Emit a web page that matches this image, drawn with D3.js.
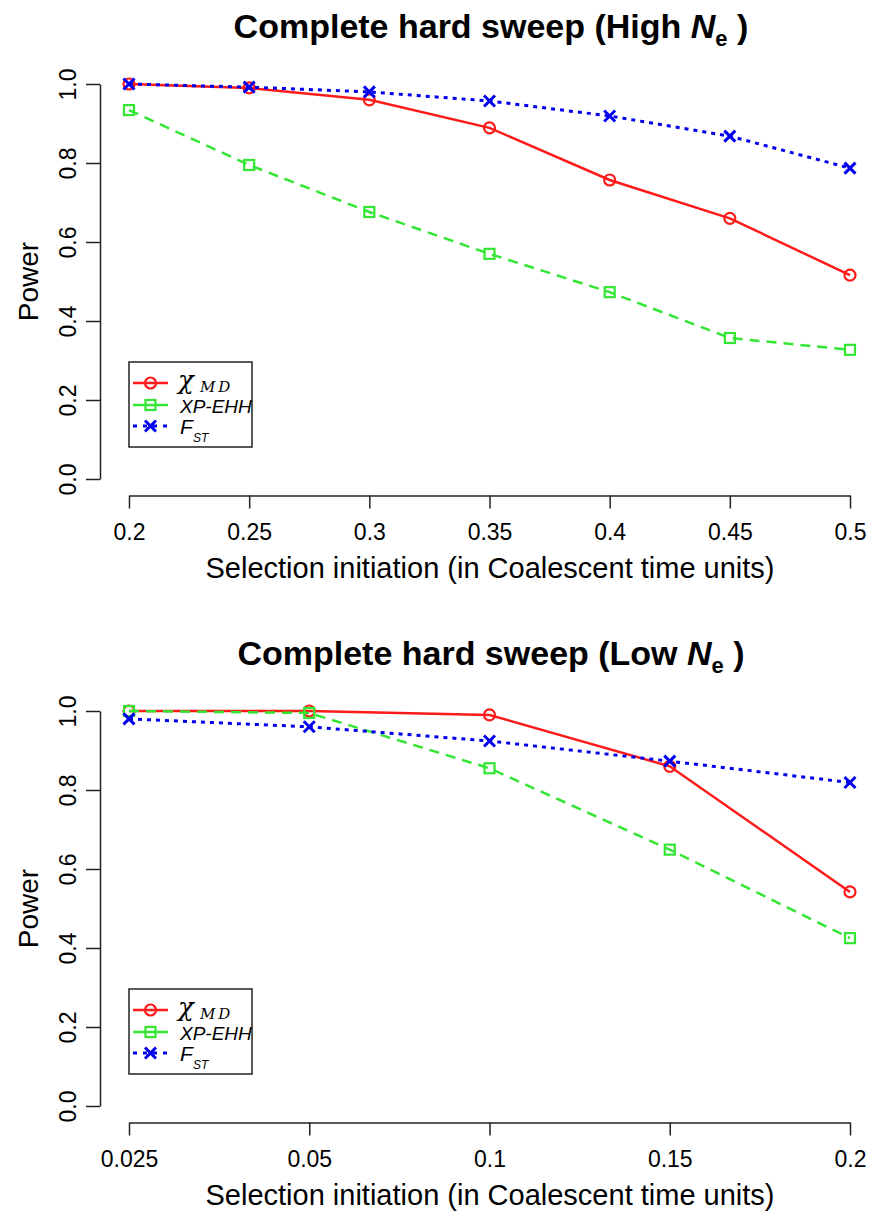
<!DOCTYPE html>
<html><head><meta charset="utf-8">
<script src="https://cdn.jsdelivr.net/npm/d3@7"></script>
<style>body{margin:0;background:#fff}svg{display:block}</style>
</head><body>
<svg id="chart" width="870" height="1211"></svg>
<script>
// ---- data ----
const highX = ["0.2","0.25","0.3","0.35","0.4","0.45","0.5"];
const highChi = [1.0, 0.99, 0.96, 0.889, 0.757, 0.66, 0.516];
const highXP  = [0.934, 0.795, 0.676, 0.57, 0.473, 0.357, 0.327];
const highFst = [1.0, 0.992, 0.98, 0.957, 0.919, 0.868, 0.787];

const lowX = ["0.025","0.05","0.1","0.15","0.2"];
const lowChi = [1.0, 1.0, 0.99, 0.86, 0.542];
const lowXP  = [1.0, 0.995, 0.855, 0.649, 0.425];
const lowFst = [0.98, 0.96, 0.924, 0.873, 0.819];

const yTicks = [0, 0.2, 0.4, 0.6, 0.8, 1.0];
const xLabel = "Selection initiation (in Coalescent time units)";
const yLabel = "Power";

const colors = {chi:"#ff1a1a", xp:"#33e633", fst:"#0000ee"};
const FONT = "Liberation Sans, Arial, sans-serif";

const svg = d3.select("#chart");

function marker(g, type, x, y, color){
  if(type==="circle"){
    g.append("circle").attr("cx",x).attr("cy",y).attr("r",5.5)
      .attr("fill","none").attr("stroke",color).attr("stroke-width",2.2);
  } else if(type==="square"){
    g.append("rect").attr("x",x-5).attr("y",y-5).attr("width",10).attr("height",10)
      .attr("fill","none").attr("stroke",color).attr("stroke-width",2.2);
  } else {
    const s=5.5;
    g.append("path").attr("d",`M${x-s},${y-s}L${x+s},${y+s}M${x-s},${y+s}L${x+s},${y-s}`)
      .attr("stroke",color).attr("stroke-width",3).attr("fill","none");
  }
}

const styles = {
  chi:{dash:null, w:2.5, m:"circle"},
  xp:{dash:"10,7", w:2.5, m:"square"},
  fst:{dash:"4,5", w:3, m:"x"}
};

function panel(top, cats, chi, xp, fst, titleWord){
  const y0 = top + 479, y1 = top + 84;
  const x = d3.scalePoint().domain(cats).range([129, 850]);
  const y = d3.scaleLinear().domain([0,1]).range([y0, y1]);
  const g = svg.append("g");

  // title
  const t = g.append("text").attr("x", 491).attr("y", top+38)
    .attr("text-anchor","middle").attr("font-family",FONT)
    .attr("font-weight","bold").attr("font-size",34).attr("fill","#000");
  t.append("tspan").text("Complete hard sweep (" + titleWord + " ");
  t.append("tspan").attr("font-style","italic").text("N");
  t.append("tspan").attr("font-size",22).attr("dy",8).text("e");
  t.append("tspan").attr("dy",-8).text(" )");

  // y axis
  const ya = g.append("g").attr("transform","translate(100,0)")
    .call(d3.axisLeft(y).tickValues(yTicks).tickFormat(d3.format(".1f")).tickSize(14).tickSizeOuter(0));
  ya.select(".domain").attr("stroke","#222").attr("stroke-width",1.5);
  ya.selectAll(".tick line").attr("stroke","#222").attr("stroke-width",1.5);
  ya.selectAll(".tick text").attr("font-family",FONT).attr("font-size",23)
    .attr("fill","#000")
    .each(function(){
      d3.select(this).attr("x",null).attr("text-anchor","middle")
        .attr("transform","translate(-32,0) rotate(-90)").attr("dy","0.35em");
    });

  // x axis
  const xa = g.append("g").attr("transform",`translate(0,${top+495.5})`)
    .call(d3.axisBottom(x).tickSize(13).tickSizeOuter(0));
  xa.select(".domain").attr("stroke","#222").attr("stroke-width",1.5);
  xa.selectAll(".tick line").attr("stroke","#222").attr("stroke-width",1.5);
  xa.selectAll(".tick text").attr("font-family",FONT).attr("font-size",23)
    .attr("fill","#000").attr("y",28).attr("dy","0.71em");

  g.append("text").attr("x",490).attr("y",top+578).attr("text-anchor","middle")
    .attr("font-family",FONT).attr("font-size",29).text(xLabel);
  g.append("text").attr("transform",`translate(38,${(y0+y1)/2}) rotate(-90)`).attr("text-anchor","middle")
    .attr("font-family",FONT).attr("font-size",28).text(yLabel);

  // series
  const series = [["chi",chi],["xp",xp],["fst",fst]];
  const line = d3.line().x((d,i)=>x(cats[i])).y(d=>y(d));
  series.forEach(([k,vals])=>{
    const st=styles[k];
    g.append("path").datum(vals).attr("d",line).attr("fill","none")
      .attr("stroke",colors[k]).attr("stroke-width",st.w)
      .attr("stroke-dasharray",st.dash);
    vals.forEach((v,i)=>marker(g, st.m, x(cats[i]), y(v), colors[k]));
  });

  // legend
  const lg = g.append("g");
  lg.append("rect").attr("x",129).attr("y",top+362).attr("width",123).attr("height",85)
    .attr("fill","#fff").attr("stroke","#222").attr("stroke-width",1.5);
  const rows = [["chi",top+383],["xp",top+405],["fst",top+426]];
  rows.forEach(([k,ry])=>{
    const st=styles[k];
    lg.append("line").attr("x1",133).attr("x2",168).attr("y1",ry).attr("y2",ry)
      .attr("stroke",colors[k]).attr("stroke-width",st.w).attr("stroke-dasharray",k==="fst"?"4,6":null);
    marker(lg, st.m, 150.5, ry, colors[k]);
  });
  lg.append("text").attr("x",178).attr("y",top+389).attr("font-family","DejaVu Serif, serif")
    .attr("font-style","italic").attr("font-size",26).text("χ");
  lg.append("text").attr("x",200).attr("y",top+392).attr("font-family","DejaVu Serif, serif")
    .attr("font-style","italic").attr("font-size",15).attr("letter-spacing",3).text("MD");
  lg.append("text").attr("x",180).attr("y",top+413).attr("font-family",FONT)
    .attr("font-style","italic").attr("font-size",19).text("XP-EHH");
  lg.append("text").attr("x",180).attr("y",top+434).attr("font-family",FONT)
    .attr("font-style","italic").attr("font-size",21).text("F");
  lg.append("text").attr("x",193).attr("y",top+442).attr("font-family",FONT)
    .attr("font-style","italic").attr("font-size",12).text("ST");
}

panel(0, highX, highChi, highXP, highFst, "High");
panel(627, lowX, lowChi, lowXP, lowFst, "Low");
</script>
</body></html>
